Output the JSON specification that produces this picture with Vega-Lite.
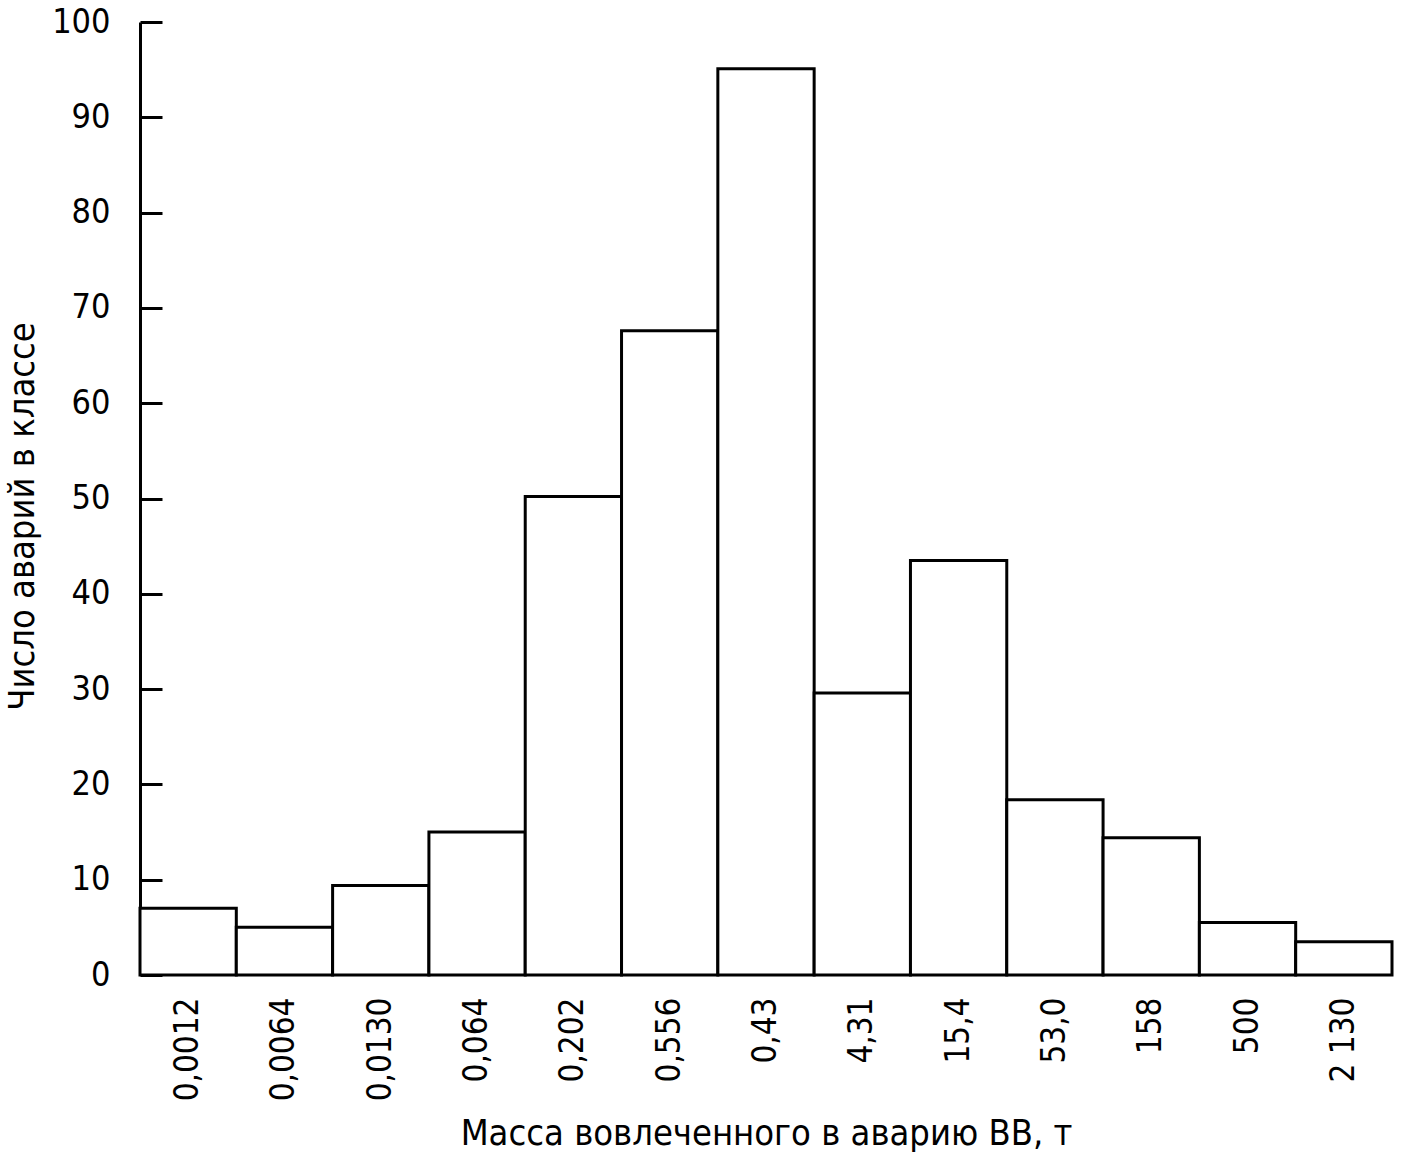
{
  "$schema": "https://vega.github.io/schema/vega-lite/v6.json",
  "width": 1252,
  "height": 953,
  "autosize": "none",
  "padding": {"left": 140, "top": 22, "right": 17, "bottom": 187},
  "background": "white",
  "config": {
    "view": {"stroke": null},
    "font": "DejaVu Sans Condensed, Liberation Sans Narrow, DejaVu Sans, sans-serif"
  },
  "data": {
    "values": [
      {"mass": "0,0012", "count": 7},
      {"mass": "0,0064", "count": 5},
      {"mass": "0,0130", "count": 9.4},
      {"mass": "0,064", "count": 15},
      {"mass": "0,202", "count": 50.2},
      {"mass": "0,556", "count": 67.6},
      {"mass": "0,43", "count": 95.1},
      {"mass": "4,31", "count": 29.6},
      {"mass": "15,4", "count": 43.5},
      {"mass": "53,0", "count": 18.4},
      {"mass": "158", "count": 14.4},
      {"mass": "500", "count": 5.5},
      {"mass": "2 130", "count": 3.5}
    ]
  },
  "mark": {"type": "bar", "fill": "white", "stroke": "black", "strokeWidth": 3},
  "encoding": {
    "x": {
      "field": "mass",
      "type": "nominal",
      "sort": null,
      "scale": {"paddingInner": 0, "paddingOuter": 0},
      "axis": {
        "title": "Масса вовлеченного в аварию ВВ, т",
        "titleFontSize": 36,
        "titleFontWeight": "normal",
        "titleColor": "black",
        "titlePadding": 16,
        "labelAngle": -90,
        "labelFontSize": 33,
        "labelColor": "black",
        "labelPadding": 22,
        "ticks": false,
        "domain": false
      }
    },
    "y": {
      "field": "count",
      "type": "quantitative",
      "scale": {"domain": [0, 100]},
      "axis": {
        "title": "Число аварий в классе",
        "titleFontSize": 36,
        "titleFontWeight": "normal",
        "titleColor": "black",
        "titlePadding": 10,
        "titleY": 494,
        "values": [0, 10, 20, 30, 40, 50, 60, 70, 80, 90, 100],
        "grid": false,
        "tickSize": -22,
        "tickWidth": 3,
        "tickColor": "black",
        "domainColor": "black",
        "domainWidth": 3,
        "labelFontSize": 34,
        "labelColor": "black",
        "labelPadding": 52
      }
    }
  }
}
